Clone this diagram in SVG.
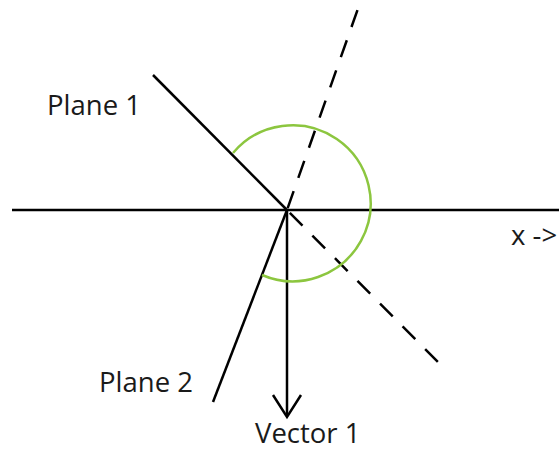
<svg xmlns="http://www.w3.org/2000/svg" width="559" height="450" viewBox="0 0 559 450">
<style>
.ln{stroke:#000;stroke-width:2.5;fill:none;stroke-linecap:butt}
.dash{stroke-dasharray:18 14}
.arc{stroke:#8cc63f;stroke-width:2.5;fill:none}
.lbl{font-family:"Open Sans","Liberation Sans",sans-serif;font-size:27.5px;fill:#1a1a1a}
</style>
<rect width="559" height="450" fill="#fff"/>
<g id="connectors">
<line id="x-axis" class="ln" x1="12" y1="210" x2="559" y2="210"/>
<line id="plane1-line" class="ln" x1="153" y1="75" x2="287" y2="210"/>
<line id="plane1-ext" class="ln dash" x1="287" y1="210" x2="442" y2="366" stroke-dashoffset="-4"/>
<line id="plane2-line" class="ln" x1="287" y1="210" x2="213" y2="402"/>
<line id="plane2-ext" class="ln dash" x1="287" y1="210" x2="361" y2="0" stroke-dashoffset="-2"/>
<line id="vector1-line" class="ln" x1="287" y1="210" x2="287" y2="416" stroke-width="3.5"/>
<polyline id="vector1-head" class="ln" points="273,395 287,417 301,395" stroke-width="3.5"/>
<path id="angle-arc" class="arc" d="M233,153 A78,78 0 1 1 262,275"/>
</g>
<g id="plane1"><text class="lbl" x="47" y="115">Plane 1</text></g>
<g id="plane2"><text class="lbl" x="99" y="392">Plane 2</text></g>
<g id="vector1"><text class="lbl" x="255" y="443">Vector 1</text></g>
<g id="x-label"><text class="lbl" x="511" y="245">x -&gt;</text></g>
</svg>
